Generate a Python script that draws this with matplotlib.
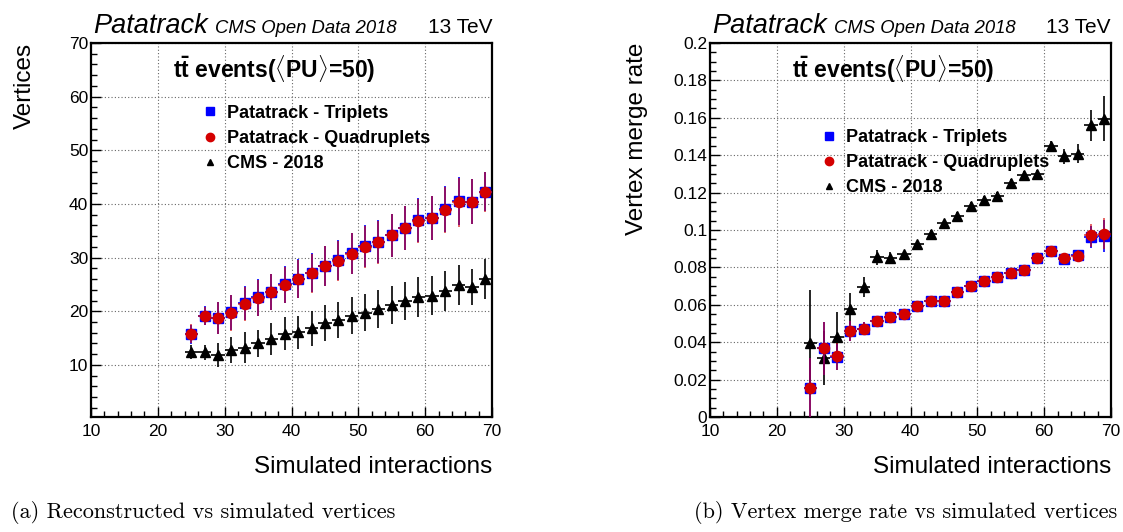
import matplotlib
matplotlib.use("Agg")
import matplotlib.pyplot as plt
import numpy as np
from matplotlib.lines import Line2D
from matplotlib.ticker import MultipleLocator, FuncFormatter

plt.rcParams["font.family"] = ["Liberation Sans", "DejaVu Sans"]
plt.rcParams["mathtext.fontset"] = "custom"
plt.rcParams["mathtext.rm"] = "Liberation Sans"
plt.rcParams["mathtext.bf"] = "Liberation Sans:bold"

# simulated interactions (bin centres, bin width 2)
sim_pu = [25, 27, 29, 31, 33, 35, 37, 39, 41, 43, 45, 47,
          49, 51, 53, 55, 57, 59, 61, 63, 65, 67, 69]

# (a) reconstructed vertices
vtx_trip = [15.7, 19.2, 18.7, 19.8, 21.5, 22.6, 23.6, 25.0, 26.1, 27.2, 28.5, 29.5,
            30.8, 32.1, 33.0, 34.2, 35.6, 37.0, 37.4, 39.0, 40.5, 40.4, 42.3]
vtx_quad = [15.8, 19.1, 18.7, 19.7, 21.4, 22.5, 23.6, 24.9, 26.0, 27.1, 28.4, 29.4,
            30.7, 32.0, 32.9, 34.2, 35.5, 36.8, 37.3, 38.9, 40.3, 40.4, 42.2]
vtx_pat_err = [1.8, 1.7, 3.0, 3.3, 3.2, 3.4, 3.4, 3.4, 3.6, 3.6, 3.7, 3.7,
               3.8, 3.9, 4.0, 4.0, 4.1, 4.1, 4.1, 4.3, 4.5, 4.2, 3.7]
vtx_cms = [12.4, 12.4, 11.9, 12.8, 13.2, 14.0, 14.8, 15.8, 16.1, 16.8, 17.8, 18.4,
           19.2, 19.75, 20.4, 21.2, 21.9, 22.7, 22.9, 23.8, 24.9, 24.5, 26.0]
vtx_cms_err = [1.3, 1.4, 2.2, 2.4, 2.9, 2.6, 3.0, 3.1, 3.1, 3.2, 3.3, 3.3,
               3.4, 3.4, 3.6, 3.6, 3.6, 3.7, 3.6, 3.8, 3.7, 3.4, 3.8]

# (b) vertex merge rate
mr_trip = [0.0157, 0.0367, 0.0322, 0.0459, 0.0472, 0.0516, 0.0534, 0.0552, 0.0593, 0.0620,
           0.0622, 0.0668, 0.0703, 0.0728, 0.0750, 0.0768, 0.0785, 0.0848, 0.0887, 0.0843,
           0.0864, 0.0963, 0.0970]
mr_quad = [0.0157, 0.0367, 0.0324, 0.0459, 0.0472, 0.0516, 0.0534, 0.0552, 0.0593, 0.0620,
           0.0622, 0.0668, 0.0703, 0.0728, 0.0750, 0.0768, 0.0785, 0.0848, 0.0887, 0.0848,
           0.0862, 0.0971, 0.0981]
mr_pat_err = [0.0157, 0.014, 0.007, 0.0055, 0.0035, 0.002, 0.002, 0.002, 0.002, 0.002,
              0.002, 0.002, 0.002, 0.002, 0.002, 0.002, 0.002, 0.002, 0.002, 0.003,
              0.003, 0.006, 0.0085]
mr_cms = [0.0397, 0.0317, 0.0429, 0.0579, 0.0695, 0.0855, 0.0850, 0.0869, 0.0923, 0.0981,
          0.1035, 0.1074, 0.1131, 0.1163, 0.1184, 0.1252, 0.1293, 0.1300, 0.1448, 0.1395,
          0.1409, 0.1560, 0.1596]
mr_cms_err = [0.028, 0.0145, 0.013, 0.0085, 0.0055, 0.004, 0.003, 0.002, 0.002, 0.002,
              0.002, 0.002, 0.002, 0.002, 0.002, 0.002, 0.002, 0.002, 0.003, 0.004,
              0.005, 0.0082, 0.0118]

labels = ["Patatrack - Triplets", "Patatrack - Quadruplets", "CMS - 2018"]
title_txt = r"$\mathbf{t\bar{t}}$ events($\langle$PU$\rangle$=50)"
BLUE = "#0000ff"
RED = "#d40000"

W, H = 1123, 532


def root_axes(ax, ymin, ymax, ymajor, yminor, yfmt):
    ax.set_xlim(10, 70)
    ax.set_ylim(ymin, ymax)
    ax.xaxis.set_major_locator(MultipleLocator(10))
    ax.xaxis.set_minor_locator(MultipleLocator(2))
    ax.yaxis.set_major_locator(MultipleLocator(ymajor))
    ax.yaxis.set_minor_locator(MultipleLocator(yminor))
    ax.yaxis.set_major_formatter(FuncFormatter(yfmt))
    ax.tick_params(which="both", direction="in", top=False, right=False,
                   labelsize=12.5, width=1.0)
    ax.tick_params(which="major", length=7)
    ax.tick_params(which="minor", length=4)
    ax.tick_params(axis="x", pad=5)
    ax.tick_params(axis="y", pad=2)
    for s in ax.spines.values():
        s.set_linewidth(1.6)
    ax.grid(True, which="major", linestyle=(0, (1, 2)), color="#666666", lw=0.8)
    ax.set_axisbelow(True)


def draw_series(ax, trip, quad, pat_err, cms, cms_err):
    xerr = np.ones(len(sim_pu))
    ax.errorbar(sim_pu, cms, yerr=cms_err, xerr=xerr, fmt="^", color="black",
                ms=6.5, lw=1.2, capsize=0, zorder=3)
    ax.errorbar(sim_pu, trip, yerr=pat_err, xerr=xerr, fmt="s", color=BLUE,
                ms=7.5, lw=1.2, capsize=0, zorder=4)
    ax.errorbar(sim_pu, quad, yerr=pat_err, xerr=xerr, fmt="none", ecolor=RED,
                alpha=0.7, lw=1.2, capsize=0, zorder=5)
    ax.plot(sim_pu, quad, "o", color=RED, ms=7.3, zorder=6)


def decorate(ax, ylabel, ylab_x, leg_top):
    ax.text(0.006, 1.027, "Patatrack", transform=ax.transAxes, fontsize=19.5,
            style="italic", va="baseline", ha="left")
    ax.text(0.31, 1.027, "CMS Open Data 2018", transform=ax.transAxes, fontsize=13.3,
            style="italic", va="baseline", ha="left")
    ax.text(1.0, 1.027, "13 TeV", transform=ax.transAxes, fontsize=15,
            va="baseline", ha="right")
    ax.text(0.205, 0.928, title_txt, transform=ax.transAxes, fontsize=16.5,
            fontweight="bold", va="center", ha="left")
    ax.text(1.0, -0.134, "Simulated interactions", transform=ax.transAxes,
            fontsize=17.5, ha="right", va="center")
    ax.text(ylab_x, 1.0, ylabel, transform=ax.transAxes, fontsize=17.5,
            rotation=90, ha="center", va="top")
    handles = [Line2D([], [], ls="none", marker="s", color=BLUE, ms=6),
               Line2D([], [], ls="none", marker="o", color=RED, ms=6),
               Line2D([], [], ls="none", marker="^", color="black", ms=5)]
    ax.legend(handles, labels, loc="upper left", bbox_to_anchor=(0.273, leg_top),
              frameon=False, borderpad=0, borderaxespad=0, handlelength=1.0,
              handletextpad=0.45, labelspacing=0.45,
              prop={"weight": "bold", "size": 13})


fig = plt.figure(figsize=(W / 100, H / 100), dpi=100)
ax1 = fig.add_axes([91 / W, 1 - 417 / H, 401 / W, 374 / H])
ax2 = fig.add_axes([710 / W, 1 - 417 / H, 401 / W, 374 / H])

root_axes(ax1, 0.3, 70, 10, 2, lambda v, p: f"{v:g}")
root_axes(ax2, 0, 0.2, 0.02, 0.005, lambda v, p: f"{v:g}")

draw_series(ax1, vtx_trip, vtx_quad, vtx_pat_err, vtx_cms, vtx_cms_err)
draw_series(ax2, mr_trip, mr_quad, mr_pat_err, mr_cms, mr_cms_err)

decorate(ax1, "Vertices", -0.165, 0.835)
decorate(ax2, "Vertex merge rate", -0.182, 0.77)

fig.text(11 / W, 1 - 513 / H, "(a) Reconstructed vs simulated vertices",
         family="cmr10", fontsize=16, ha="left", va="center")
fig.text(694 / W, 1 - 513 / H, "(b) Vertex merge rate vs simulated vertices",
         family="cmr10", fontsize=16, ha="left", va="center")

fig.savefig("out.png", dpi=100)
